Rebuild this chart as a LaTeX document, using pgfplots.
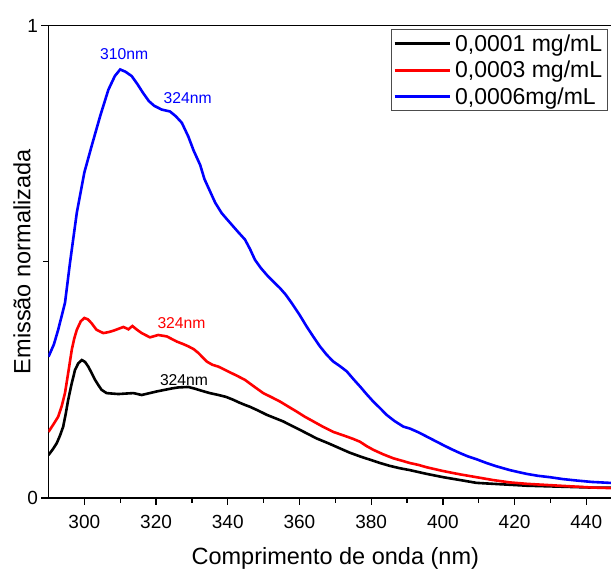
\documentclass[border=0pt]{standalone}
\usepackage{pgfplots}
\pgfplotsset{compat=1.18}
\usepackage{fontspec}
\setmainfont{Liberation Sans}
\begin{document}
\begin{tikzpicture}
\path[use as bounding box] (-48.5pt,-72pt) rectangle (562.5pt,498pt);
\begin{axis}[
 at={(0pt,0pt)}, anchor=south west,
 scale only axis, width=573.6pt, height=472.5pt,
 xmin=290, xmax=450, ymin=0, ymax=1,
 xtick={300,320,...,440}, minor x tick num=1,
 ytick={0,1}, minor ytick={0.5},
 tick align=outside, xtick pos=left, ytick pos=left,
 major tick length=7pt, minor tick length=5pt,
 /pgf/number format/assume math mode=true,
 tick label style={font=\fontsize{19}{22}\selectfont},
 xticklabel style={yshift=-7pt},
 label style={font=\fontsize{23.5}{28}\selectfont},
 xlabel={Comprimento de onda (nm)},
 ylabel={Emissão normalizada},
 xlabel style={yshift=-12pt},
 ylabel style={yshift=-10pt},
 axis line style={line width=1.3pt},
 tick style={line width=1.3pt, black},
 legend cell align=left,
 legend style={at={(0.5966,0.9926)}, anchor=north west, draw=gray!60!black,
   line width=0.8pt, font=\fontsize{23}{27}\selectfont, fill=white,
   inner sep=2pt, row sep=2.5pt, column sep=1pt, nodes={inner sep=3pt}},
 legend image code/.code={\draw[#1, line width=3pt] (0pt,0pt) -- (55pt,0pt);},
]
\addplot[black, line width=2.6pt] coordinates {
(290,0.091)(291.2,0.103)(292.3,0.116)(293.2,0.132)(294.1,0.151)(294.8,0.178)
(295.5,0.208)(296.4,0.240)(297.4,0.271)(298.3,0.285)(299.3,0.292)(300.2,0.288)
(301.1,0.278)(302,0.265)(303,0.250)(303.9,0.239)(304.8,0.229)(306.2,0.222)
(307.8,0.221)(309.5,0.220)(311.5,0.221)(313.7,0.222)(316,0.218)(318.8,0.223)
(320.5,0.226)(322.5,0.229)(324.5,0.232)(326.2,0.234)(329,0.235)(331,0.231)
(332.7,0.227)(335,0.222)(337.4,0.218)(339.5,0.214)(341.5,0.208)(343.2,0.202)
(344.8,0.197)(346.2,0.193)(348.5,0.185)(350.9,0.176)(353.2,0.169)(355.5,0.162)
(357.8,0.153)(360.2,0.144)(362.5,0.135)(364.8,0.126)(368,0.116)(371.3,0.105)
(374,0.096)(376.9,0.088)(379.7,0.081)(382.5,0.074)(385.2,0.068)(388,0.063)
(390.8,0.059)(395.5,0.051)(400.1,0.044)(404.8,0.038)(409.4,0.032)(414,0.030)
(418.7,0.028)(423.4,0.026)(428,0.025)(432.6,0.024)(437.3,0.023)(442,0.022)
(446.6,0.022)(450,0.021)
};
\addlegendentry{0,0001 mg/mL}
\addplot[red, line width=2.6pt] coordinates {
(290,0.140)(291.3,0.155)(292.7,0.172)(293.7,0.195)(294.6,0.222)(295.5,0.265)
(296.5,0.314)(297.2,0.338)(297.9,0.356)(299,0.374)(300,0.381)(301,0.378)
(302,0.370)(303.4,0.356)(305.3,0.349)(306.7,0.351)(308.1,0.354)(309.5,0.358)
(310.9,0.362)(312.3,0.357)(313.4,0.364)(314.7,0.356)(316,0.349)(318.3,0.340)
(320.6,0.345)(323,0.342)(325.8,0.331)(327.5,0.326)(329,0.321)(330.5,0.315)
(331.8,0.307)(334.1,0.289)(335.7,0.282)(337.4,0.278)(339,0.272)(340.6,0.266)
(342.5,0.259)(344.8,0.250)(347.5,0.235)(349.9,0.222)(352.3,0.213)(354.6,0.204)
(357,0.193)(359.2,0.183)(361.5,0.172)(363.9,0.162)(366.5,0.151)(369.4,0.140)
(371.3,0.135)(373.2,0.130)(375,0.125)(376.9,0.119)(378.7,0.110)(380.6,0.102)
(383.5,0.092)(386.2,0.084)(389,0.078)(390.8,0.074)(393.2,0.070)(395.5,0.065)
(397.8,0.061)(400.1,0.057)(404.8,0.050)(409.4,0.044)(414,0.038)(418.7,0.033)
(423.4,0.030)(428,0.028)(432.6,0.026)(437.3,0.024)(442,0.022)(446.6,0.021)
(450,0.020)
};
\addlegendentry{0,0003 mg/mL}
\addplot[blue, line width=2.6pt] coordinates {
(290,0.299)(291.5,0.325)(292.7,0.356)(294.6,0.413)(296,0.498)(297.9,0.604)
(300,0.689)(302,0.744)(304.4,0.808)(306.7,0.864)(308.5,0.893)(310,0.907)
(311.5,0.902)(313.2,0.893)(314.8,0.876)(316.4,0.857)(318,0.840)(319.5,0.830)
(321.6,0.822)(323.9,0.818)(325.5,0.808)(327.2,0.794)(329,0.765)(330.5,0.735)
(332.3,0.705)(333.5,0.675)(335,0.650)(336.5,0.625)(338.3,0.603)(340,0.588)
(341.5,0.575)(343,0.562)(344.8,0.547)(346.2,0.527)(347.6,0.504)(349.2,0.487)
(350.9,0.472)(352.7,0.458)(354.6,0.444)(356.2,0.430)(357.8,0.413)(360,0.388)
(362,0.363)(363.9,0.341)(365.7,0.321)(367.5,0.304)(369.4,0.289)(371.3,0.279)
(373.2,0.268)(375,0.252)(376.9,0.236)(378.7,0.220)(380.6,0.204)(382.5,0.190)
(384.3,0.176)(386.5,0.163)(389,0.151)(390.8,0.147)(393.2,0.139)(395.5,0.130)
(397.8,0.121)(400.1,0.112)(402.5,0.103)(404.8,0.095)(407,0.088)(409.4,0.082)
(412.2,0.074)(415,0.067)(418.7,0.059)(421,0.055)(423.4,0.051)(426.5,0.047)
(429.9,0.044)(433.5,0.040)(437.3,0.037)(441.5,0.034)(446.6,0.032)(450,0.030)
};
\addlegendentry{0,0006mg/mL}
\node[blue, font=\fontsize{15.7}{18}\selectfont] at (axis cs:311.1,0.939) {310nm};
\node[blue, font=\fontsize{15.7}{18}\selectfont] at (axis cs:328.8,0.847) {324nm};
\node[red, font=\fontsize{15.7}{18}\selectfont] at (axis cs:327.1,0.370) {324nm};
\node[black, font=\fontsize{15.7}{18}\selectfont] at (axis cs:327.8,0.250) {324nm};
\end{axis}
\end{tikzpicture}
\end{document}
